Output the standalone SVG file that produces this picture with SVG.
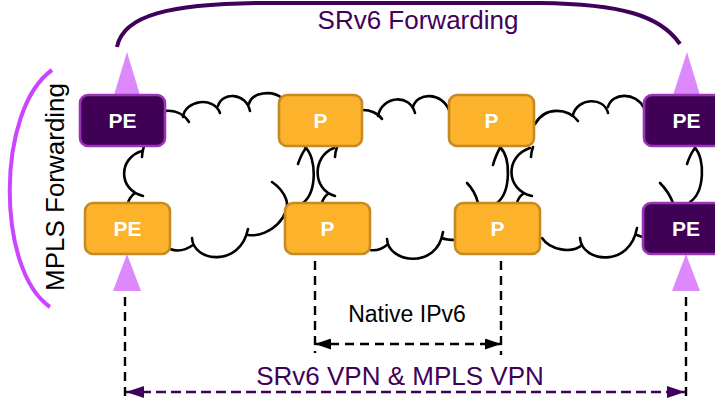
<svg xmlns="http://www.w3.org/2000/svg" width="715" height="399" viewBox="0 0 715 399">
  <style>
    .cloud { fill: none; stroke: #000; stroke-width: 2.6; stroke-linecap: round; }
    .pe rect { fill: #3f0055; stroke: #9a34b8; stroke-width: 2.6; }
    .p rect { fill: #fdb22b; stroke: #c78a22; stroke-width: 2.6; }
    .node text { font-family: "Liberation Sans", Arial, sans-serif; font-weight: bold; font-size: 21px; fill: #fff; text-anchor: middle; }
    .dash { fill: none; stroke: #000; stroke-width: 2.4; stroke-dasharray: 9 6; }
    .dash-purple { fill: none; stroke: #41005a; stroke-width: 2.6; stroke-dasharray: 10 5; }
    .tri { fill: #dd88fb; }
    .label { font-family: "Liberation Sans", Arial, sans-serif; }
  </style>
  <defs>
    <marker id="arrow-black" viewBox="0 0 16 11" refX="16" refY="5.5" markerWidth="16" markerHeight="11" markerUnits="userSpaceOnUse" orient="auto-start-reverse">
      <path d="M0,0 L16,5.5 L0,11 z" fill="#000"/>
    </marker>
    <marker id="arrow-purple" viewBox="0 0 18 12" refX="18" refY="6" markerWidth="18" markerHeight="12" markerUnits="userSpaceOnUse" orient="auto-start-reverse">
      <path d="M0,0 L18,6 L0,12 z" fill="#41005a"/>
    </marker>
  </defs>

  <rect width="715" height="399" fill="#fff"/>

  <!-- forwarding scopes -->
  <path d="M117,47 C123,15 170,4 260,3 L540,3 C620,4 660,15 680,44" fill="none" stroke="#41005a" stroke-width="4"/>
  <text class="label" x="418" y="29" font-size="26" fill="#41005a" text-anchor="middle">SRv6 Forwarding</text>
  <path d="M52,70 C-4,110 -4,270 50,307" fill="none" stroke="#cc44ff" stroke-width="4"/>
  <text class="label" transform="translate(64,187) rotate(-90)" font-size="26" fill="#000" text-anchor="middle">MPLS Forwarding</text>

  <g id="connectors">
    <!-- cloud between the PE column and the first P column -->
    <g class="cloud">
      <path d="M165,111 C175,110 184,114 189,122"/>
      <path d="M183,117 C185,100 214,96 220,113"/>
      <path d="M218,106 C222,92 246,92 250,111"/>
      <path d="M249,104 C252,92 272,90 282,98"/>
      <path d="M170,249 C178,252 186,250 193,245"/>
      <path d="M192,238 C193,262 240,268 248,229"/>
      <path d="M248,235 C270,238 292,215 286,199 C283,191 278,186 272,182"/>
      <path d="M142,151 C118,158 118,190 143,196"/>
      <path d="M142,157 C142,153 143,150 144,146"/>
      <path d="M128,203 C129,199 131,196 135,193"/>
      <path d="M305,147 C317,158 317,192 303,203"/>
      <path d="M298,164 C300,158 302,153 306,148"/>
    </g>
    <!-- cloud between the two P columns -->
    <g class="cloud">
      <path d="M363,110 C370,110 378,113 382,119"/>
      <path d="M378,116 C382,96 410,93 415,113"/>
      <path d="M413,107 C417,92 442,92 449,110"/>
      <path d="M370,250 C376,251 382,249 387,245"/>
      <path d="M387,239 C388,263 437,270 443,232"/>
      <path d="M442,238 C446,240 451,240 456,240"/>
      <path d="M334,148 C312,156 312,190 335,196"/>
      <path d="M335,157 C335,153 336,150 337,147"/>
      <path d="M322,203 C323,199 325,196 328,194"/>
      <path d="M467,183 C472,188 476,195 478,203"/>
      <path d="M500,147 C511,158 511,192 497,203"/>
      <path d="M493,165 C495,158 497,153 500,148"/>
    </g>
    <!-- cloud between the second P column and the far PE column -->
    <g class="cloud">
      <path d="M535,124 C545,106 568,108 578,121"/>
      <path d="M573,115 C577,98 604,96 608,113"/>
      <path d="M608,107 C612,92 636,92 644,108"/>
      <path d="M542,238 C550,250 572,254 582,245"/>
      <path d="M580,238 C582,263 630,268 637,228"/>
      <path d="M637,235 C639,236 641,237 644,237"/>
      <path d="M530,148 C505,156 505,190 532,196"/>
      <path d="M531,157 C531,153 532,150 533,147"/>
      <path d="M517,203 C518,199 520,196 523,194"/>
      <path d="M660,183 C665,188 670,195 673,203"/>
      <path d="M695,148 C705,158 705,192 690,202"/>
      <path d="M687,164 C689,158 691,153 695,148"/>
    </g>

    <!-- service spans -->
    <line class="dash" x1="315" y1="261" x2="315" y2="353"/>
    <line class="dash" x1="501" y1="261" x2="501" y2="355"/>
    <line class="dash" x1="125" y1="297" x2="125" y2="399"/>
    <line class="dash" x1="686" y1="297" x2="686" y2="399"/>
    <line class="dash" x1="315" y1="344" x2="501" y2="344" marker-start="url(#arrow-black)" marker-end="url(#arrow-black)"/>
    <line class="dash-purple" x1="126" y1="392" x2="685" y2="392" marker-start="url(#arrow-purple)" marker-end="url(#arrow-purple)"/>
  </g>

  <text class="label" x="407" y="322" font-size="23" fill="#000" text-anchor="middle">Native IPv6</text>
  <text class="label" x="400" y="385" font-size="26" fill="#41005a" text-anchor="middle">SRv6 VPN &amp; MPLS VPN</text>

  <!-- endpoint markers -->
  <polygon class="tri" points="127,52 114,95 140,95"/>
  <polygon class="tri" points="687,52 673,95 700,95"/>
  <polygon class="tri" points="127,254 113,291 141,291"/>
  <polygon class="tri" points="686,254 672,291 700,291"/>

  <g id="pe-top-left" class="node pe">
    <rect x="80" y="95" width="85" height="51" rx="8"/>
    <text x="122.5" y="128">PE</text>
  </g>
  <g id="p-top-1" class="node p">
    <rect x="279" y="95" width="83" height="51" rx="8"/>
    <text x="320.5" y="128">P</text>
  </g>
  <g id="p-top-2" class="node p">
    <rect x="449" y="95" width="85" height="51" rx="8"/>
    <text x="491.5" y="128">P</text>
  </g>
  <g id="pe-top-right" class="node pe">
    <rect x="644" y="95" width="85" height="51" rx="8"/>
    <text x="686.5" y="128">PE</text>
  </g>
  <g id="pe-bottom-left" class="node p">
    <rect x="85" y="203" width="85" height="51" rx="8"/>
    <text x="127.5" y="236">PE</text>
  </g>
  <g id="p-bottom-1" class="node p">
    <rect x="285" y="203" width="85" height="51" rx="8"/>
    <text x="327.5" y="236">P</text>
  </g>
  <g id="p-bottom-2" class="node p">
    <rect x="455" y="203" width="85" height="51" rx="8"/>
    <text x="497.5" y="236">P</text>
  </g>
  <g id="pe-bottom-right" class="node pe">
    <rect x="643" y="203" width="85" height="51" rx="8"/>
    <text x="686" y="236">PE</text>
  </g>
</svg>
